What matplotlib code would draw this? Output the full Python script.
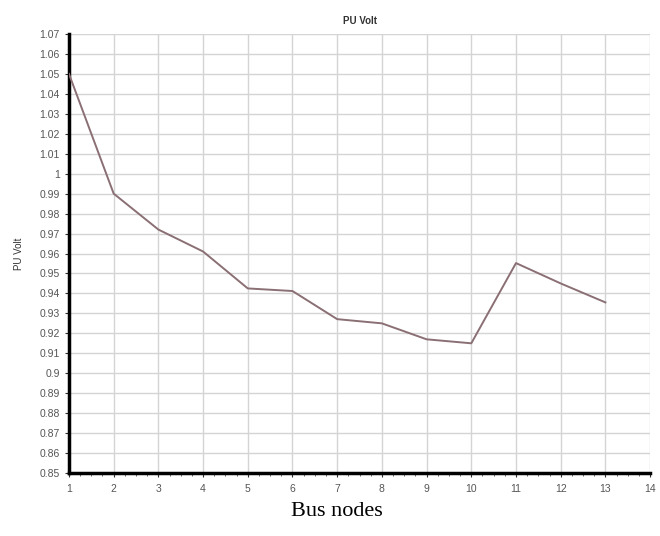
import numpy as np
import matplotlib.pyplot as plt
from matplotlib.ticker import MultipleLocator, FuncFormatter

bus = [1, 2, 3, 4, 5, 6, 7, 8, 9, 10, 11, 12, 13]
pu_volt = [1.05, 0.99, 0.972, 0.961, 0.9425, 0.9412, 0.9271, 0.925, 0.917, 0.915, 0.9552, 0.945, 0.9355]

plt.rcParams['font.family'] = ['Liberation Sans', 'DejaVu Sans']

fig = plt.figure(figsize=(6.6, 5.36), dpi=100)
ax = fig.add_axes([0.1045, 0.1175, 0.8805, 0.8191])

ax.plot(bus, pu_volt, color='#8a6f74', lw=1.4, zorder=3)

ax.set_xlim(1, 14)
ax.set_ylim(0.85, 1.07)
ax.set_xticks(range(1, 15))
ax.yaxis.set_major_locator(MultipleLocator(0.01))
ax.yaxis.set_major_formatter(FuncFormatter(lambda v, p: f"{round(v, 2):g}"))
ax.xaxis.set_minor_locator(MultipleLocator(0.25))
ax.grid(True, which='major', color='#d4d4d4', lw=1.0)
ax.tick_params(axis='both', which='major', labelsize=7.5, labelcolor='#555555',
               color='#333333', length=3)
ax.tick_params(axis='x', which='minor', length=2, color='#555555')
ax.tick_params(axis='x', pad=5)

for s in ['top', 'right']:
    ax.spines[s].set_visible(False)
for s in ['left', 'bottom']:
    ax.spines[s].set_linewidth(2.5)
    ax.spines[s].set_color('black')

ax.set_title('PU Volt', fontsize=7, fontweight='bold', color='#333333', pad=7)
ax.set_ylabel('PU Volt', fontsize=7, color='#333333', labelpad=11)

fig.text(337 / 660, 1 - 512 / 536, 'Bus nodes', family='Liberation Serif',
         fontsize=16, ha='center', va='center')

fig.savefig('out.png', dpi=100)
